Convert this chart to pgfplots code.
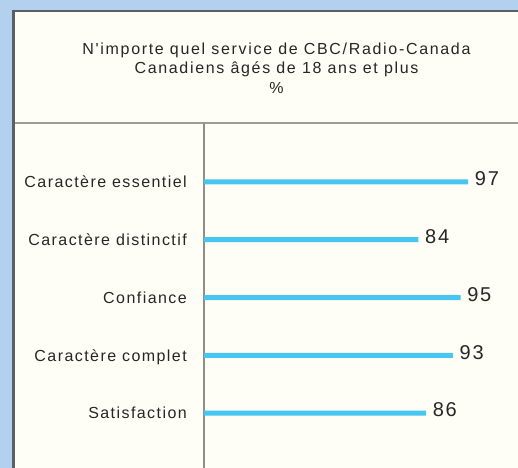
\documentclass[border=0pt]{standalone}
\usepackage{fontspec}
\setmainfont{Liberation Sans}[LetterSpace=9]
\newfontfamily\titlefam{Liberation Sans}[LetterSpace=10.5, Ligatures=TeXOff]
\usepackage{pgfplots}
\pgfplotsset{compat=1.18}
\definecolor{bgblue}{HTML}{B3D1EE}
\definecolor{panel}{HTML}{FEFEF6}
\definecolor{bordergray}{HTML}{5B6066}
\definecolor{sepgray}{HTML}{9C9C98}
\definecolor{axgray}{HTML}{8E8E8A}
\definecolor{barblue}{HTML}{48C6F2}
\definecolor{txt}{HTML}{262626}
\newcommand\titlefont{\titlefam\fontsize{16bp}{19.5bp}\selectfont}
\newcommand\labelfont{\fontsize{16bp}{19bp}\selectfont}
\newcommand\numfont{\fontsize{20bp}{24bp}\selectfont}
\begin{document}
\begin{tikzpicture}[x=1bp,y=1bp]
\useasboundingbox (0,0) rectangle (518,468);
\clip (0,0) rectangle (518,468);
\fill[bgblue] (0,0) rectangle (518,468);
\fill[bordergray] (12,-5) rectangle (530,458);
\fill[panel] (15,-5) rectangle (530,455.5);
\draw[sepgray, line width=2bp] (15,345) -- (530,345);
\draw[axgray, line width=1.5bp] (204,345) -- (204,-5);
\node[anchor=base, text=txt, font=\titlefont, inner sep=0pt] at (276.5,413.7) {N'importe quel service de CBC/Radio-Canada};
\node[anchor=base, text=txt, font=\titlefont, inner sep=0pt] at (276.5,394) {Canadiens âgés de 18 ans et plus};
\node[anchor=base, text=txt, font=\titlefont, inner sep=0pt] at (276.5,374.7) {\%};
\begin{axis}[
  at={(204bp,0bp)}, anchor=south west,
  scale only axis, width=314bp, height=345bp,
  xmin=28, xmax=110, ymin=-0.95, ymax=5.02,
  axis x line=none, axis y line*=left,
  y axis line style={draw=none},
  ytick={0,1,2,3,4},
  yticklabels={Satisfaction,Caractère complet,Confiance,Caractère distinctif,Caractère essentiel},
  major tick length=0pt,
  yticklabel style={anchor=base east, inner sep=0pt, xshift=-17bp, yshift=-5.8bp, font=\labelfont, text=txt},
  /pgf/number format/assume math mode=true,
  xbar, bar width=5bp,
  nodes near coords,
  nodes near coords style={anchor=base west, inner sep=0pt, xshift=6.5bp, yshift=-3.7bp, font=\numfont, text=txt},
]
\addplot[fill=barblue, draw=none] coordinates {(86,0) (93,1) (95,2) (84,3) (97,4)};
\end{axis}
\end{tikzpicture}
\end{document}
